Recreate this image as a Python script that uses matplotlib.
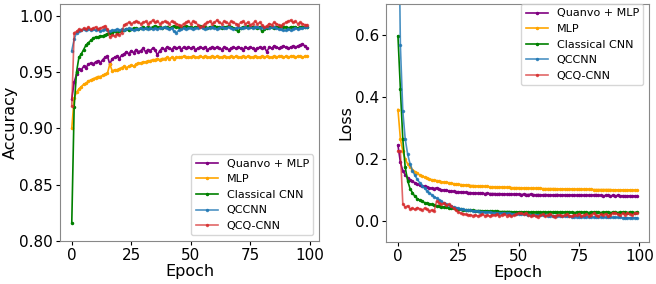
import matplotlib
matplotlib.use("Agg")
import matplotlib.pyplot as plt
import numpy as np

epochs = list(range(100))
labels = ["Quanvo + MLP", "MLP", "Classical CNN", "QCCNN", "QCQ-CNN"]

acc_quanvo = [0.926, 0.941, 0.948, 0.953, 0.952, 0.955, 0.954, 0.957, 0.958, 0.957,
              0.959, 0.960, 0.958, 0.961, 0.963, 0.964, 0.957, 0.962, 0.963, 0.964,
              0.962, 0.965, 0.966, 0.968, 0.966, 0.969, 0.967, 0.970, 0.968, 0.969,
              0.971, 0.968, 0.970, 0.969, 0.971, 0.970, 0.965, 0.969, 0.971, 0.970,
              0.972, 0.971, 0.970, 0.972, 0.971, 0.972, 0.970, 0.972, 0.971, 0.972,
              0.971, 0.972, 0.970, 0.971, 0.972, 0.971, 0.972, 0.970, 0.971, 0.972,
              0.971, 0.972, 0.971, 0.970, 0.972, 0.971, 0.970, 0.971, 0.972, 0.971,
              0.972, 0.971, 0.970, 0.972, 0.971, 0.972, 0.971, 0.970, 0.971, 0.972,
              0.971, 0.972, 0.968, 0.972, 0.971, 0.973, 0.972, 0.971, 0.972, 0.973,
              0.972, 0.971, 0.972, 0.973, 0.972, 0.973, 0.974, 0.975, 0.973, 0.971]
acc_mlp = [0.900, 0.927, 0.932, 0.935, 0.937, 0.939, 0.940, 0.942, 0.943, 0.944,
           0.945, 0.946, 0.946, 0.947, 0.948, 0.949, 0.957, 0.951, 0.952, 0.952,
           0.953, 0.954, 0.955, 0.954, 0.955, 0.956, 0.955, 0.957, 0.958, 0.958,
           0.959, 0.959, 0.960, 0.960, 0.961, 0.961, 0.962, 0.961, 0.962, 0.962,
           0.963, 0.962, 0.963, 0.962, 0.963, 0.963, 0.963, 0.964, 0.963, 0.963,
           0.963, 0.964, 0.963, 0.963, 0.964, 0.963, 0.964, 0.963, 0.963, 0.964,
           0.963, 0.964, 0.963, 0.963, 0.964, 0.963, 0.963, 0.964, 0.963, 0.964,
           0.963, 0.963, 0.964, 0.963, 0.964, 0.963, 0.963, 0.964, 0.963, 0.963,
           0.964, 0.963, 0.964, 0.963, 0.963, 0.964, 0.963, 0.964, 0.964, 0.963,
           0.964, 0.963, 0.964, 0.964, 0.963, 0.964, 0.964, 0.963, 0.964, 0.964]
acc_cnn = [0.816, 0.919, 0.950, 0.963, 0.966, 0.970, 0.974, 0.976, 0.978, 0.980,
           0.981, 0.981, 0.982, 0.982, 0.983, 0.984, 0.985, 0.985, 0.986, 0.985,
           0.986, 0.987, 0.987, 0.988, 0.987, 0.988, 0.989, 0.989, 0.988, 0.989,
           0.990, 0.989, 0.990, 0.989, 0.990, 0.991, 0.990, 0.990, 0.989, 0.990,
           0.990, 0.989, 0.990, 0.991, 0.990, 0.990, 0.989, 0.990, 0.991, 0.990,
           0.990, 0.989, 0.990, 0.990, 0.991, 0.990, 0.990, 0.989, 0.990, 0.990,
           0.991, 0.990, 0.990, 0.989, 0.990, 0.990, 0.991, 0.990, 0.989, 0.988,
           0.986, 0.989, 0.990, 0.990, 0.991, 0.990, 0.990, 0.990, 0.989, 0.990,
           0.986, 0.988, 0.989, 0.990, 0.990, 0.989, 0.990, 0.990, 0.991, 0.990,
           0.990, 0.989, 0.990, 0.990, 0.990, 0.989, 0.990, 0.990, 0.990, 0.990]
acc_qccnn = [0.969, 0.979, 0.985, 0.986, 0.987, 0.988, 0.987, 0.988, 0.987, 0.988,
             0.987, 0.988, 0.986, 0.987, 0.988, 0.987, 0.986, 0.987, 0.987, 0.988,
             0.987, 0.988, 0.987, 0.988, 0.989, 0.988, 0.987, 0.988, 0.988, 0.989,
             0.988, 0.989, 0.988, 0.989, 0.988, 0.989, 0.988, 0.989, 0.989, 0.990,
             0.989, 0.988, 0.989, 0.986, 0.985, 0.987, 0.988, 0.989, 0.988, 0.989,
             0.989, 0.988, 0.989, 0.989, 0.990, 0.989, 0.988, 0.989, 0.989, 0.990,
             0.989, 0.988, 0.989, 0.990, 0.989, 0.989, 0.990, 0.989, 0.988, 0.989,
             0.990, 0.989, 0.989, 0.990, 0.989, 0.990, 0.989, 0.990, 0.990, 0.989,
             0.990, 0.989, 0.990, 0.989, 0.990, 0.990, 0.989, 0.988, 0.988, 0.987,
             0.987, 0.988, 0.987, 0.988, 0.989, 0.988, 0.989, 0.989, 0.990, 0.990]
acc_qcq = [0.920, 0.985, 0.986, 0.988, 0.987, 0.989, 0.988, 0.990, 0.988, 0.989,
           0.990, 0.988, 0.989, 0.990, 0.991, 0.988, 0.981, 0.983, 0.982, 0.984,
           0.983, 0.985, 0.992, 0.993, 0.994, 0.993, 0.994, 0.995, 0.994, 0.993,
           0.994, 0.995, 0.993, 0.994, 0.996, 0.994, 0.995, 0.993, 0.994, 0.995,
           0.994, 0.993, 0.995, 0.994, 0.993, 0.992, 0.991, 0.993, 0.994, 0.995,
           0.993, 0.995, 0.994, 0.992, 0.990, 0.991, 0.993, 0.994, 0.995, 0.993,
           0.994, 0.996, 0.994, 0.993, 0.995, 0.994, 0.993, 0.995, 0.994, 0.993,
           0.992, 0.994, 0.995, 0.993, 0.994, 0.992, 0.993, 0.995, 0.993, 0.994,
           0.992, 0.990, 0.991, 0.993, 0.992, 0.994, 0.993, 0.992, 0.991, 0.993,
           0.994, 0.995, 0.996, 0.994, 0.995, 0.993, 0.994, 0.993, 0.992, 0.992]

loss_quanvo = [0.245, 0.190, 0.163, 0.150, 0.140, 0.134, 0.128, 0.124, 0.120, 0.117,
               0.115, 0.112, 0.110, 0.108, 0.106, 0.105, 0.108, 0.103, 0.101, 0.100,
               0.099, 0.098, 0.097, 0.096, 0.095, 0.095, 0.094, 0.093, 0.093, 0.092,
               0.092, 0.091, 0.091, 0.090, 0.091, 0.090, 0.089, 0.090, 0.089, 0.089,
               0.089, 0.088, 0.089, 0.088, 0.088, 0.087, 0.088, 0.087, 0.087, 0.088,
               0.087, 0.086, 0.087, 0.086, 0.086, 0.087, 0.086, 0.085, 0.086, 0.085,
               0.085, 0.086, 0.085, 0.085, 0.084, 0.085, 0.086, 0.084, 0.085, 0.084,
               0.084, 0.085, 0.084, 0.084, 0.083, 0.084, 0.084, 0.083, 0.084, 0.083,
               0.083, 0.084, 0.086, 0.083, 0.083, 0.082, 0.083, 0.083, 0.082, 0.083,
               0.082, 0.083, 0.082, 0.082, 0.082, 0.081, 0.082, 0.082, 0.081, 0.082]
loss_mlp = [0.360, 0.266, 0.225, 0.200, 0.185, 0.174, 0.166, 0.160, 0.154, 0.149,
            0.145, 0.142, 0.139, 0.136, 0.134, 0.132, 0.131, 0.129, 0.127, 0.126,
            0.125, 0.124, 0.122, 0.121, 0.120, 0.119, 0.118, 0.117, 0.117, 0.116,
            0.115, 0.115, 0.114, 0.114, 0.113, 0.113, 0.112, 0.112, 0.111, 0.111,
            0.111, 0.110, 0.110, 0.110, 0.109, 0.109, 0.109, 0.108, 0.108, 0.108,
            0.108, 0.107, 0.107, 0.107, 0.107, 0.106, 0.106, 0.106, 0.106, 0.106,
            0.105, 0.105, 0.105, 0.105, 0.105, 0.105, 0.104, 0.104, 0.104, 0.104,
            0.104, 0.104, 0.104, 0.103, 0.103, 0.103, 0.103, 0.103, 0.103, 0.103,
            0.103, 0.102, 0.102, 0.102, 0.102, 0.102, 0.102, 0.102, 0.102, 0.101,
            0.101, 0.101, 0.101, 0.101, 0.101, 0.101, 0.101, 0.100, 0.100, 0.100]
loss_cnn = [0.597, 0.427, 0.265, 0.174, 0.131, 0.105, 0.092, 0.080, 0.073, 0.068,
            0.064, 0.060, 0.058, 0.056, 0.054, 0.052, 0.050, 0.049, 0.047, 0.046,
            0.045, 0.043, 0.042, 0.041, 0.040, 0.039, 0.038, 0.037, 0.036, 0.036,
            0.035, 0.035, 0.034, 0.034, 0.034, 0.033, 0.033, 0.033, 0.032, 0.032,
            0.032, 0.032, 0.031, 0.031, 0.031, 0.031, 0.031, 0.030, 0.030, 0.030,
            0.030, 0.030, 0.030, 0.030, 0.030, 0.029, 0.030, 0.029, 0.029, 0.029,
            0.029, 0.029, 0.029, 0.029, 0.029, 0.029, 0.029, 0.029, 0.029, 0.029,
            0.030, 0.029, 0.029, 0.028, 0.029, 0.029, 0.029, 0.029, 0.029, 0.028,
            0.030, 0.029, 0.029, 0.029, 0.028, 0.029, 0.029, 0.029, 0.028, 0.029,
            0.029, 0.028, 0.029, 0.029, 0.029, 0.028, 0.029, 0.029, 0.028, 0.029]
loss_qccnn = [1.200, 0.567, 0.355, 0.265, 0.217, 0.185, 0.163, 0.148, 0.135, 0.124,
              0.115, 0.106, 0.098, 0.091, 0.085, 0.079, 0.074, 0.069, 0.064, 0.059,
              0.055, 0.052, 0.049, 0.046, 0.044, 0.042, 0.040, 0.038, 0.037, 0.036,
              0.035, 0.034, 0.033, 0.032, 0.031, 0.031, 0.030, 0.029, 0.029, 0.028,
              0.028, 0.027, 0.027, 0.026, 0.026, 0.025, 0.025, 0.024, 0.024, 0.023,
              0.023, 0.022, 0.022, 0.022, 0.021, 0.021, 0.020, 0.020, 0.020, 0.019,
              0.019, 0.019, 0.018, 0.018, 0.018, 0.017, 0.017, 0.017, 0.016, 0.016,
              0.016, 0.016, 0.015, 0.015, 0.015, 0.015, 0.014, 0.014, 0.014, 0.014,
              0.014, 0.013, 0.013, 0.013, 0.013, 0.013, 0.012, 0.012, 0.012, 0.012,
              0.012, 0.012, 0.012, 0.011, 0.011, 0.011, 0.011, 0.011, 0.011, 0.011]
loss_qcq = [0.227, 0.225, 0.057, 0.045, 0.050, 0.040, 0.042, 0.038, 0.044, 0.040,
            0.036, 0.042, 0.038, 0.034, 0.036, 0.032, 0.065, 0.060, 0.055, 0.058,
            0.052, 0.055, 0.048, 0.042, 0.035, 0.030, 0.026, 0.024, 0.022, 0.020,
            0.021, 0.018, 0.020, 0.017, 0.019, 0.022, 0.018, 0.020, 0.016, 0.021,
            0.019, 0.022, 0.017, 0.020, 0.024, 0.018, 0.021, 0.016, 0.019, 0.023,
            0.027, 0.025, 0.022, 0.026, 0.020, 0.018, 0.021, 0.017, 0.015, 0.019,
            0.022, 0.016, 0.020, 0.024, 0.018, 0.015, 0.019, 0.021, 0.017, 0.020,
            0.023, 0.018, 0.016, 0.021, 0.019, 0.024, 0.017, 0.020, 0.022, 0.018,
            0.021, 0.025, 0.019, 0.017, 0.022, 0.020, 0.024, 0.018, 0.021, 0.027,
            0.028, 0.022, 0.019, 0.025, 0.021, 0.027, 0.023, 0.020, 0.026, 0.025]

colors = ["purple", "orange", "green", "#1f77b4", "#d62728"]
alphas = [1.0, 1.0, 1.0, 0.8, 0.7]

fig = plt.figure(figsize=(6.56, 2.84), dpi=100)
ax1 = fig.add_axes([60/656, 1-241/284, (319-60)/656, (241-4)/284])
ax2 = fig.add_axes([386/656, 1-242/284, (649-386)/656, (242-4)/284])

acc = [acc_quanvo, acc_mlp, acc_cnn, acc_qccnn, acc_qcq]
loss = [loss_quanvo, loss_mlp, loss_cnn, loss_qccnn, loss_qcq]

for ax, data, ylabel in [(ax1, acc, "Accuracy"), (ax2, loss, "Loss")]:
    for vals, lab, c, a in zip(data, labels, colors, alphas):
        ax.plot(epochs, vals, marker='.', markersize=3, linewidth=1.2,
                color=c, alpha=a, label=lab)
    ax.set_xlabel("Epoch", fontsize=11.5, labelpad=1)
    ax.set_ylabel(ylabel, fontsize=11.5, labelpad=1)
    ax.tick_params(labelsize=11, length=3, pad=2)
    ax.set_xticks([0, 25, 50, 75, 100])
    for s in ax.spines.values():
        s.set_color("#888888")

ax1.set_ylim(0.80, 1.0104)
ax1.set_yticks([0.80, 0.85, 0.90, 0.95, 1.00])
ax2.set_ylim(-0.067, 0.70)
ax2.set_yticks([0.0, 0.2, 0.4, 0.6])

ax1.legend(loc="lower right", fontsize=8)
ax2.legend(loc="upper right", fontsize=8, bbox_to_anchor=(1.0, 1.0235))

fig.savefig("out.png", dpi=100)
